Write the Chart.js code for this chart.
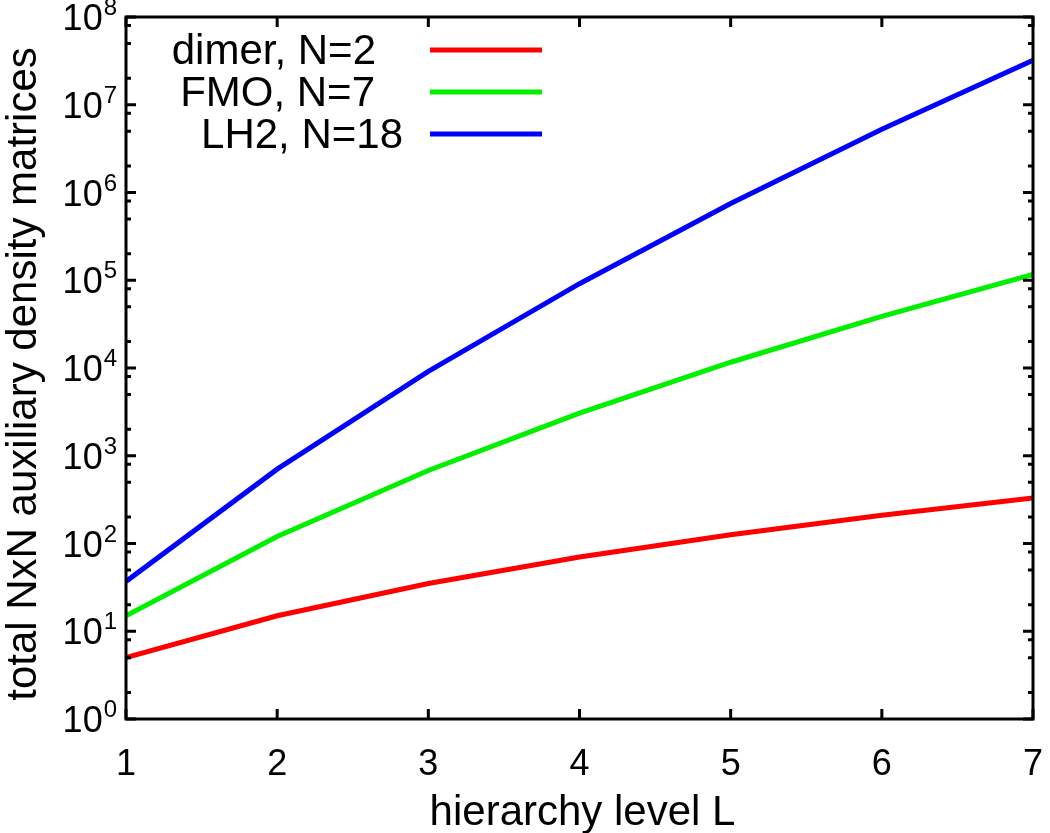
<!DOCTYPE html>
<html>
<head>
<meta charset="utf-8">
<title>HEOM auxiliary density matrices</title>
<script src="https://cdn.jsdelivr.net/npm/chart.js@4"></script>
<style>
  html, body { margin: 0; padding: 0; background: #fff; }
  #wrap { width: 1050px; height: 833px; }
</style>
</head>
<body>
<div id="wrap"><canvas id="chart" width="1050" height="833"></canvas></div>
<script>
// hierarchy level L
const levels = [1, 2, 3, 4, 5, 6, 7];
// total number of NxN auxiliary density matrices
const dimerN2 = [5, 15, 35, 70, 126, 210, 330];
const fmoN7 = [15, 120, 680, 3060, 11628, 38760, 116280];
const lh2N18 = [37, 703, 9139, 91390, 749398, 5245786, 32224114];

const seriesNames = ['dimer, N=2', 'FMO, N=7', 'LH2, N=18'];
const seriesColors = ['#ff0000', '#00f000', '#0000ff'];
const yDecades = [0, 1, 2, 3, 4, 5, 6, 7, 8];
const xTitle = 'hierarchy level L';
const yTitle = 'total NxN auxiliary density matrices';

const FONT = "'Liberation Sans', Arial, Helvetica, sans-serif";

function pts(arr) {
    return levels.map((l, i) => ({ x: l, y: arr[i] }));
}

// Draw axes, ticks, labels and key the way the gnuplot figure does
const framePlugin = {
    id: 'frame',
    afterDatasetsDraw(chart) {
        const ctx = chart.ctx;
        const a = chart.chartArea;
        const xs = chart.scales.x;
        const ys = chart.scales.y;
        ctx.save();
        ctx.strokeStyle = '#000';
        ctx.fillStyle = '#000';
        ctx.lineWidth = 3;
        ctx.lineCap = 'butt';

        // border
        ctx.strokeRect(a.left, a.top, a.right - a.left, a.bottom - a.top);

        // x ticks, inward on bottom and top
        ctx.beginPath();
        levels.forEach(l => {
            const px = xs.getPixelForValue(l);
            ctx.moveTo(px, a.bottom); ctx.lineTo(px, a.bottom - 10);
            ctx.moveTo(px, a.top); ctx.lineTo(px, a.top + 10);
        });
        // y ticks, major at decades, minor at 2, 5, 8
        yDecades.forEach(d => {
            const base = Math.pow(10, d);
            const py = ys.getPixelForValue(base);
            ctx.moveTo(a.left, py); ctx.lineTo(a.left + 10, py);
            ctx.moveTo(a.right, py); ctx.lineTo(a.right - 10, py);
            if (d < 8) {
                [2, 5, 8].forEach(m => {
                    const my = ys.getPixelForValue(base * m);
                    ctx.moveTo(a.left, my); ctx.lineTo(a.left + 5, my);
                    ctx.moveTo(a.right, my); ctx.lineTo(a.right - 5, my);
                });
            }
        });
        ctx.stroke();

        // x tick labels
        ctx.font = '36px ' + FONT;
        ctx.textAlign = 'center';
        ctx.textBaseline = 'alphabetic';
        levels.forEach(l => {
            ctx.fillText(String(l), xs.getPixelForValue(l), 775);
        });

        // y tick labels 10^d
        yDecades.forEach(d => {
            const py = ys.getPixelForValue(Math.pow(10, d));
            ctx.font = '24px ' + FONT;
            const supW = ctx.measureText(String(d)).width;
            const supX = a.left - 9 - supW;
            ctx.textAlign = 'left';
            ctx.fillText(String(d), supX, py - 2);
            ctx.font = '36px ' + FONT;
            ctx.textAlign = 'right';
            ctx.fillText('10', supX - 1, py + 13);
        });

        // axis titles
        ctx.font = '42px ' + FONT;
        ctx.textAlign = 'center';
        ctx.fillText(xTitle, (a.left + a.right) / 2 + 3, 825);
        ctx.save();
        ctx.translate(36, 374);
        ctx.rotate(-Math.PI / 2);
        ctx.fillText(yTitle, 0, 0);
        ctx.restore();

        // key
        const keyRows = [50, 92, 134];
        const keyRight = [376, 375, 403];
        ctx.font = '42px ' + FONT;
        ctx.textAlign = 'right';
        ctx.textBaseline = 'middle';
        seriesNames.forEach((name, i) => {
            ctx.fillStyle = '#000';
            ctx.fillText(name, keyRight[i], keyRows[i] + 2);
            ctx.strokeStyle = seriesColors[i];
            ctx.lineWidth = 5;
            ctx.beginPath();
            ctx.moveTo(430, keyRows[i]);
            ctx.lineTo(542, keyRows[i]);
            ctx.stroke();
        });
        ctx.restore();
    }
};

const seriesData = [dimerN2, fmoN7, lh2N18];

new Chart(document.getElementById('chart'), {
    type: 'line',
    data: {
        datasets: seriesData.map((arr, i) => ({
            label: seriesNames[i],
            data: pts(arr),
            borderColor: seriesColors[i],
            backgroundColor: seriesColors[i],
            borderWidth: 5,
            pointRadius: 0,
            tension: 0,
            fill: false
        }))
    },
    options: {
        responsive: false,
        animation: false,
        devicePixelRatio: 1,
        layout: { padding: { left: 126, top: 17, right: 17, bottom: 114 } },
        plugins: {
            legend: { display: false },
            tooltip: { enabled: false }
        },
        scales: {
            x: { type: 'linear', min: 1, max: 7, display: false },
            y: { type: 'logarithmic', min: 1, max: 1e8, display: false }
        }
    },
    plugins: [framePlugin]
});
</script>
</body>
</html>
